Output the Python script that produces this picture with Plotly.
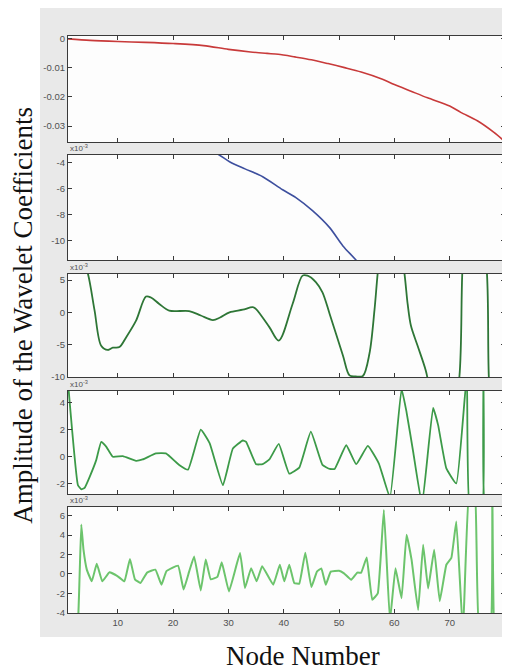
import plotly.graph_objects as go
from plotly.subplots import make_subplots

# ---------------- data ----------------
# Panel 1 (approximation, red)
p1_x = [1, 5, 10, 15, 20, 25.5, 30, 34, 37, 39, 42, 45, 48, 51, 54, 57.6, 60, 63, 66, 70, 72, 75, 78, 80]
p1_y = [0, -0.0005, -0.0009, -0.0012, -0.0016, -0.0023, -0.0036, -0.0045, -0.0050, -0.0053, -0.0062,
        -0.0072, -0.0085, -0.0099, -0.0114, -0.0137, -0.0157, -0.0180, -0.0203, -0.0231, -0.0253,
        -0.0282, -0.0322, -0.0354]

# Panel 2 (detail, blue) in units of 1e-3
p2_x = [1, 10, 20, 25, 28, 30.2, 33, 36.2, 39.8, 42.2, 45.2, 48.3, 50.7, 53.1, 56, 60, 70, 80]
p2_y = [-0.3, -1.0, -2.0, -2.8, -3.35, -3.95, -4.5, -5.1, -6.1, -6.7, -7.7, -9.0, -10.4, -11.5,
        -13.0, -15.5, -22.0, -30.0]

# Panel 3 (detail, dark green) in units of 1e-3
p3_x = [1, 3, 4.6, 5.8, 7, 8.2, 9.1, 10.3, 11.5, 13.3, 15.1, 16, 17.5, 19.3, 22.9, 25, 27.2, 28.5,
        30.2, 32.6, 34.4, 35, 37.4, 39.1, 41.6, 43.4, 44.3, 45.8, 47, 48.3, 50.7, 51.9, 53, 54.3,
        55.5, 56.4, 57, 58, 60, 61.8, 62.4, 63, 64.2, 65.7, 67, 70, 71.7, 72.3, 73, 75, 76.7, 77.1,
        78, 80]
p3_y = [14, 10, 6, 0.3, -5.2, -5.85, -5.5, -5.4, -3.9, -1.3, 2.45, 2.3, 1.3, 0.25, 0.2, -0.5, -1.2,
        -0.8, 0.0, 0.4, 0.8, 0.5, -2.3, -4.4, 1.3, 5.7, 5.7, 4.7, 3.1, -0.25, -6.7, -9.8, -9.95,
        -9.9, -6.4, 0.3, 6.2, 14, 16, 6.2, 1.3, -2.1, -5.2, -9.1, -14, -18, -10.5, 6.5, 14, 18, 6.5,
        -10.5, -20, -25]

# Panel 4 (detail, green) in units of 1e-3
p4_x = [1, 2.8, 3.4, 4, 4.9, 6.1, 7, 7.9, 9.1, 10.9, 13.3, 14.5, 16.9, 18.7, 21.1, 22.7, 25, 26.6,
        29, 30.8, 32.6, 33.2, 35, 36.2, 37.4, 39.1, 41, 42.8, 44.9, 47, 48.3, 49.2, 51.3, 53.1,
        55.2, 57.2, 59.2, 61.3, 62.2, 63.4, 65, 67, 67.9, 69.4, 71.2, 73.1, 73.7, 75.8, 76.1,
        76.4, 80]
p4_y = [5.5, -2.1, -2.4, -2.3, -1.5, -0.25, 1.1, 0.75, 0.0, 0.05, -0.3, -0.2, 0.25, 0.25, -0.6,
        -0.95, 2.0, 1.0, -2.1, 0.6, 1.2, 1.1, -0.55, -0.55, -0.2, 0.95, -1.25, -0.8, 1.85, -0.6,
        -0.9, -0.9, 0.85, -0.55, 0.8, -0.5, -3.0, 5.0, 3.3, 0.37, -3.5, 3.6, 2.35, -0.86, -1.97,
        6.0, -4.0, -4.0, 6.0, -4.0, -6.0]

# Panel 5 (detail, light green) in units of 1e-3
p5_x = [1, 2.8, 3.4, 3.8, 4.4, 5.3, 6.2, 7.2, 8.5, 10, 11.2, 12.2, 13.1, 14.1, 15.3, 16.8, 17.9,
        18.8, 20.9, 21.9, 22.9, 23.8, 25, 25.9, 26.8, 28, 28.8, 30.1, 32.1, 33, 34.1, 35.1, 36.1,
        38.1, 39.3, 40.1, 41, 41.9, 42.8, 43.9, 45, 46, 46.8, 47.6, 48.5, 50, 50.9, 52.2, 53.3,
        54, 55, 56, 57, 58.1, 59.2, 60.2, 61.3, 62.2, 63.1, 64.3, 65.2, 66.1, 67.2, 68.2, 69.4,
        70.3, 71.2, 72.4, 73.6, 74.5, 75.4, 77.3, 77.7, 78.2, 80]
p5_y = [-12, -5.0, 5.1, 2.5, 0.45, -0.76, 1.06, -0.76, 0.17, -0.24, -0.76, 1.55, -0.55, -0.93,
        0.14, 0.45, -1.1, 0.3, 0.86, -1.6, 0.24, 1.8, -1.7, 1.5, -0.55, -0.3, 1.2, -1.8, 2.15,
        -1.45, 0.6, -0.76, 0.8, -1.1, 0.96, -0.76, 0.96, -0.93, -1.0, 2.2, -1.35, 0.24, 0.58,
        -1.1, 0.24, 0.34, 0.07, -0.6, 0.14, 0.14, 1.7, -2.65, -2.0, 6.6, -4.8, 0.6, -2.5, 4.05,
        1.5, -3.7, 3.0, -1.5, 2.5, -2.8, 0.95, 1.65, 5.4, -6.0, 9.0, 9.0, -6.0, -6.0, 9.0, -8.0,
        -10.0]

x_ticks = [10, 20, 30, 40, 50, 60, 70, 80]
p1_ticks = [0, -0.01, -0.02, -0.03]
p1_ticktext = ["0", "-0.01", "-0.02", "-0.03"]
p2_ticks = [-4, -6, -8, -10]
p3_ticks = [5, 0, -5, -10]
p4_ticks = [4, 2, 0, -2]
p5_ticks = [6, 4, 2, 0, -2, -4]

title_y = "Amplitude of the Wavelet Coefficients"
title_x = "Node Number"
scale_label = "x10<sup>-3</sup>"

# ---------------- figure ----------------
fig = make_subplots(rows=5, cols=1, shared_xaxes=False, vertical_spacing=0.02)

series = [
    (p1_x, p1_y, "#c83a3a", 1.6, 0.8),
    (p2_x, p2_y, "#3d4f9e", 1.6, 0.8),
    (p3_x, p3_y, "#2e7636", 1.8, 0.9),
    (p4_x, p4_y, "#3c9a48", 1.8, 0.35),
    (p5_x, p5_y, "#6cc46c", 2.0, 0.3),
]
for i, (xs, ys, col, w, sm) in enumerate(series, start=1):
    fig.add_trace(go.Scatter(x=xs, y=ys, mode="lines",
                             line=dict(color=col, width=w, shape="spline", smoothing=sm),
                             showlegend=False, hoverinfo="skip"), row=i, col=1)

domains = [[0.8163, 1.0], [0.6118, 0.7937], [0.4090, 0.5875], [0.2062, 0.3847], [0.0, 0.1837]]
yranges = [[-0.0355, 0.001], [-11.48, -3.44], [-10.05, 5.95], [-2.75, 4.85], [-4.02, 6.9]]
yticks = [(p1_ticks, p1_ticktext), (p2_ticks, [str(v) for v in p2_ticks]),
          (p3_ticks, [str(v) for v in p3_ticks]), (p4_ticks, [str(v) for v in p4_ticks]),
          (p5_ticks, [str(v) for v in p5_ticks])]

axis_common = dict(showline=True, linecolor="#3a3a3a", linewidth=1.2, mirror="ticks",
                   ticks="inside", ticklen=4, tickcolor="#3a3a3a", tickwidth=1,
                   showgrid=False, zeroline=False,
                   tickfont=dict(family="Liberation Sans, Arial", size=9.5, color="#505050"))

for i in range(1, 6):
    xa = "xaxis" if i == 1 else f"xaxis{i}"
    ya = "yaxis" if i == 1 else f"yaxis{i}"
    fig.layout[xa].update(range=[1, 80], tickvals=x_ticks, showticklabels=(i == 5), **axis_common)
    tv, tt = yticks[i - 1]
    fig.layout[ya].update(domain=domains[i - 1], range=yranges[i - 1], tickvals=tv, ticktext=tt,
                          **axis_common)

shapes = [dict(type="rect", xref="paper", yref="paper", x0=-0.0641, x1=1.03, y0=-0.0416, y1=1.052,
               fillcolor="#e9e9e9", line=dict(width=0), layer="below")]
for i in range(1, 6):
    xr = "x domain" if i == 1 else f"x{i} domain"
    yr = "y domain" if i == 1 else f"y{i} domain"
    shapes.append(dict(type="rect", xref=xr, yref=yr, x0=0, x1=1, y0=0, y1=1,
                       fillcolor="#fdfdfd", line=dict(width=0), layer="below"))

annotations = []
for i in range(2, 6):
    annotations.append(dict(text=scale_label, xref="paper", yref="paper", x=0.0, xanchor="left",
                            y=domains[i - 1][1], yanchor="bottom", showarrow=False,
                            font=dict(family="Liberation Sans, Arial", size=8, color="#505050")))
annotations.append(dict(text=title_y, xref="paper", yref="paper", x=-0.103, y=0.517,
                        textangle=-90, showarrow=False, xanchor="center", yanchor="middle",
                        font=dict(family="Liberation Serif, Times New Roman", size=27, color="#111")))
annotations.append(dict(text=title_x, xref="paper", yref="paper", x=0.538, y=-0.0745,
                        showarrow=False, xanchor="center", yanchor="middle",
                        font=dict(family="Liberation Serif, Times New Roman", size=27, color="#111")))

# page body adds an 8px offset, so the figure is 8px smaller than the window
fig.update_layout(width=502, height=662, margin=dict(l=60, r=5, t=28, b=57),
                  paper_bgcolor="white", plot_bgcolor="#fdfdfd",
                  shapes=shapes, annotations=annotations, showlegend=False)

fig.write_html("out.html")
